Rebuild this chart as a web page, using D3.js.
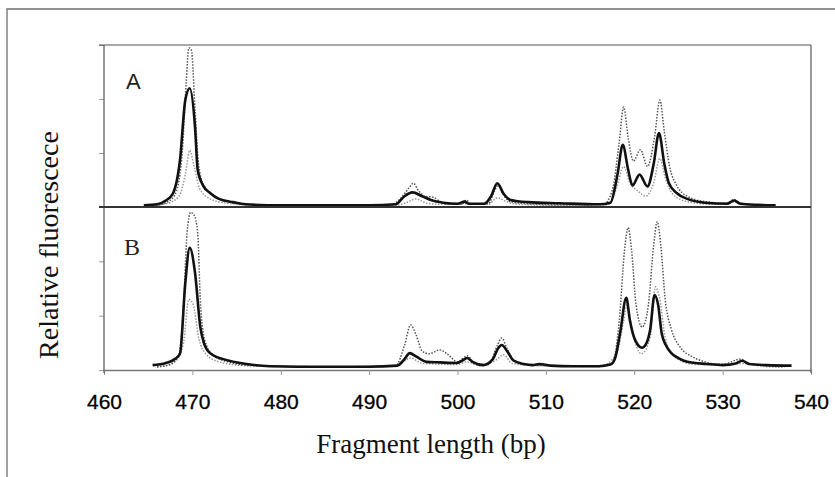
<!DOCTYPE html>
<html>
<head>
<meta charset="utf-8">
<script src="https://cdn.jsdelivr.net/npm/d3@7"></script>
<style>
  body { margin: 0; background: #fff; }
  svg { display: block; }
</style>
</head>
<body>
<svg id="chart" width="835" height="477"></svg>
<script>
// x ticks (bp) and y ticks (relative units) per panel
var xTicks = [460, 470, 480, 490, 500, 510, 520, 530, 540];
var yTicks = [0, 1, 2, 3];
var panelNames = ["A", "B"];

// panel A traces, [bp, relative fluorescence]
var aBlack = [[464.5,0.03],[466,0.05],[467,0.12],[467.8,0.25],[468.6,0.87],[469.2,1.98],[469.7,2.2],[470.3,1.48],[470.6,0.69],[471.2,0.4],[472,0.26],[473,0.15],[474.6,0.09],[476,0.05],[480,0.03],[486,0.03],[490,0.03],[493,0.05],[494,0.2],[494.9,0.27],[496,0.2],[497,0.13],[498.4,0.08],[500,0.06],[500.8,0.1],[501.3,0.06],[503,0.06],[503.8,0.2],[504.5,0.44],[505.2,0.25],[506,0.13],[508,0.09],[511.6,0.07],[516,0.05],[517.3,0.08],[518.1,0.6],[518.7,1.15],[519.3,0.7],[519.8,0.4],[520.6,0.6],[521.5,0.38],[522.2,0.8],[522.8,1.37],[523.4,0.8],[523.9,0.45],[524.8,0.26],[526,0.15],[528,0.08],[530.5,0.06],[531.3,0.12],[532,0.06],[534,0.04],[536,0.03]];
var aUpper = [[465.5,0.02],[467,0.08],[468,0.22],[468.8,0.9],[469.3,2.3],[469.6,2.95],[469.9,2.9],[470.3,1.8],[470.7,0.8],[471.3,0.4],[472.5,0.2],[474,0.1],[476,0.05],[480,0.03],[486,0.03],[492.5,0.04],[493.5,0.15],[494.5,0.35],[495,0.44],[495.6,0.3],[496.3,0.2],[497.3,0.18],[498,0.1],[499,0.05],[500.5,0.05],[501,0.13],[501.5,0.05],[503.5,0.06],[504.2,0.3],[504.6,0.4],[505.2,0.22],[506,0.1],[508,0.06],[512,0.04],[516.5,0.05],[517.5,0.3],[518.3,1.2],[518.8,1.85],[519.3,1.3],[519.9,0.85],[520.7,1.06],[521.5,0.75],[522.3,1.3],[522.9,1.98],[523.4,1.4],[524,0.75],[524.8,0.4],[526,0.2],[528,0.1],[530.5,0.07],[531.3,0.14],[532,0.07],[534,0.04],[535.5,0.03]];
var aLower = [[465,0.02],[467,0.06],[468.5,0.2],[469.2,0.6],[469.7,1.05],[470.2,0.75],[470.8,0.35],[472,0.15],[474,0.07],[478,0.03],[486,0.03],[493,0.03],[494.5,0.1],[495.3,0.15],[496.5,0.07],[498,0.05],[501,0.06],[503.5,0.05],[504.5,0.17],[505.5,0.1],[507,0.05],[512,0.03],[517,0.04],[518,0.35],[518.8,0.75],[519.5,0.45],[520.4,0.3],[521.3,0.2],[522.2,0.45],[522.9,0.9],[523.5,0.55],[524.3,0.25],[526,0.1],[529,0.05],[531.3,0.09],[533,0.04],[535,0.02]];

// panel B traces
var bBlack = [[465.5,0.09],[467,0.13],[468,0.2],[468.6,0.3],[469.2,1.6],[469.7,2.25],[470.3,1.79],[470.9,0.79],[471.3,0.5],[472,0.31],[473.5,0.2],[475.4,0.13],[478.8,0.07],[485,0.06],[490,0.06],[493.2,0.08],[494,0.2],[494.6,0.31],[495.3,0.25],[496.5,0.15],[498,0.14],[499.9,0.13],[500.6,0.18],[501.1,0.22],[501.7,0.15],[502.9,0.09],[504,0.2],[504.6,0.4],[505,0.46],[505.6,0.35],[506.3,0.18],[507.5,0.11],[508.5,0.09],[509.3,0.11],[510.5,0.08],[513,0.07],[516,0.07],[517.3,0.1],[517.8,0.2],[518.4,0.68],[519.1,1.33],[519.5,0.92],[520.1,0.55],[520.9,0.41],[521.4,0.5],[521.8,0.74],[522.3,1.38],[522.7,1.2],[523.1,0.68],[523.6,0.45],[524.2,0.31],[525,0.22],[526,0.15],[528.2,0.11],[530,0.09],[531.5,0.12],[532.2,0.17],[533,0.11],[535,0.09],[537.8,0.08]];
var bUpper = [[466,0.06],[467.5,0.1],[468.5,0.3],[469,1.2],[469.4,2.52],[469.8,2.9],[470.2,2.85],[470.6,2.52],[470.9,1.29],[471.4,0.55],[472.2,0.3],[474,0.15],[477,0.08],[486,0.06],[493,0.08],[494,0.45],[494.7,0.83],[495.3,0.65],[496,0.35],[496.8,0.3],[498,0.37],[498.8,0.3],[500,0.15],[501.1,0.26],[502,0.12],[503.5,0.1],[504.5,0.45],[505,0.59],[505.6,0.4],[506.5,0.15],[508,0.1],[510,0.08],[515,0.07],[517.5,0.12],[518.3,0.9],[518.9,2.2],[519.3,2.62],[519.7,2.2],[520.2,1.2],[520.9,0.79],[521.6,1.2],[522.2,2.3],[522.6,2.73],[523,2.3],[523.5,1.3],[524.2,0.75],[525.2,0.42],[526.5,0.25],[528,0.15],[530,0.1],[532,0.2],[533,0.12],[535,0.08],[537,0.07]];
var bLower = [[466,0.05],[468,0.15],[469,0.5],[469.6,1.3],[470.1,1.2],[470.7,0.6],[471.5,0.3],[473,0.15],[476,0.08],[486,0.06],[493,0.07],[494.7,0.22],[496,0.12],[500,0.1],[501,0.15],[502.5,0.08],[504.5,0.2],[505.2,0.28],[506.2,0.12],[509,0.08],[516,0.06],[518,0.3],[518.8,0.9],[519.2,1.2],[519.8,0.7],[520.8,0.3],[521.8,0.6],[522.4,1.53],[522.9,1.3],[523.5,0.6],[524.5,0.25],[527,0.1],[532.2,0.12],[535,0.06],[537,0.05]];

var svg = d3.select("#chart");

var x = d3.scaleLinear().domain([460, 540]).range([104, 811]);
var yA = d3.scaleLinear().domain([0, 3]).range([207, 45]);
var yB = d3.scaleLinear().domain([0, 3]).range([370, 207]);

// outer frame (top + left only)
svg.append("path")
  .attr("d", "M7,477 L7,9 L835,9")
  .attr("fill", "none")
  .attr("stroke", "#6e6e6e")
  .attr("stroke-width", 1.3);

// y ticks for both panels
[yA, yB].forEach(function (y) {
  var g = svg.append("g")
    .attr("transform", "translate(104,0)")
    .call(d3.axisLeft(y).tickValues(yTicks).tickSize(5).tickSizeOuter(0).tickFormat(""));
  g.select(".domain").remove();
  g.selectAll("line").attr("stroke", "#999");
});

// bottom axis
var xg = svg.append("g")
  .attr("transform", "translate(0,370)")
  .call(d3.axisBottom(x).tickValues(xTicks).tickSize(5).tickSizeOuter(0).tickPadding(19));
xg.select(".domain").attr("stroke", "#777").attr("stroke-width", 1.3);
xg.selectAll("line").attr("stroke", "#999");
xg.selectAll("text")
  .style("font-family", "'Liberation Sans', Arial, sans-serif")
  .style("font-size", "21px")
  .attr("fill", "#000")
  .attr("stroke", "#000")
  .attr("stroke-width", 0.3);

// plot frame
svg.append("line").attr("x1", 99).attr("x2", 811).attr("y1", 45).attr("y2", 45)
  .attr("stroke", "#555").attr("stroke-width", 1.2);
svg.append("line").attr("x1", 104).attr("x2", 104).attr("y1", 45).attr("y2", 373)
  .attr("stroke", "#555").attr("stroke-width", 1.2);
svg.append("line").attr("x1", 811).attr("x2", 811).attr("y1", 45).attr("y2", 373)
  .attr("stroke", "#555").attr("stroke-width", 1.2);

function drawPanel(y, lower, upper, black) {
  var line = d3.line()
    .x(function (d) { return x(d[0]); })
    .y(function (d) { return y(d[1]); })
    .curve(d3.curveMonotoneX);

  var g = svg.append("g");
  g.append("path").datum(lower)
    .attr("d", line).attr("fill", "none")
    .attr("stroke", "#999").attr("stroke-width", 1.5)
    .attr("stroke-dasharray", "1.5,1.5");
  g.append("path").datum(upper)
    .attr("d", line).attr("fill", "none")
    .attr("stroke", "#555").attr("stroke-width", 1.5)
    .attr("stroke-dasharray", "1.5,1.5");
  g.append("path").datum(black)
    .attr("d", line).attr("fill", "none")
    .attr("stroke", "#111").attr("stroke-width", 2.6);
}

drawPanel(yA, aLower, aUpper, aBlack);
drawPanel(yB, bLower, bUpper, bBlack);

// panel A baseline (divider between panels)
svg.append("line").attr("x1", 99).attr("x2", 811).attr("y1", yA(0)).attr("y2", yA(0))
  .attr("stroke", "#333").attr("stroke-width", 2);

// panel letters
svg.append("text")
  .attr("x", 126).attr("y", 89)
  .style("font-family", "'Liberation Sans', Arial, sans-serif")
  .style("font-size", "22px")
  .attr("fill", "#222")
  .text(panelNames[0]);
svg.append("text")
  .attr("x", 124).attr("y", 255)
  .style("font-family", "'Liberation Serif', 'Times New Roman', serif")
  .style("font-size", "24px")
  .attr("fill", "#222")
  .text(panelNames[1]);

// axis titles
svg.append("text")
  .attr("transform", "translate(58,245) rotate(-90)")
  .attr("text-anchor", "middle")
  .style("font-family", "'Liberation Serif', 'Times New Roman', serif")
  .style("font-size", "28px")
  .attr("fill", "#111")
  .text("Relative fluorescece");
svg.append("text")
  .attr("x", 431).attr("y", 453)
  .attr("text-anchor", "middle")
  .style("font-family", "'Liberation Serif', 'Times New Roman', serif")
  .style("font-size", "27px")
  .attr("fill", "#111")
  .text("Fragment length (bp)");
</script>
</body>
</html>
